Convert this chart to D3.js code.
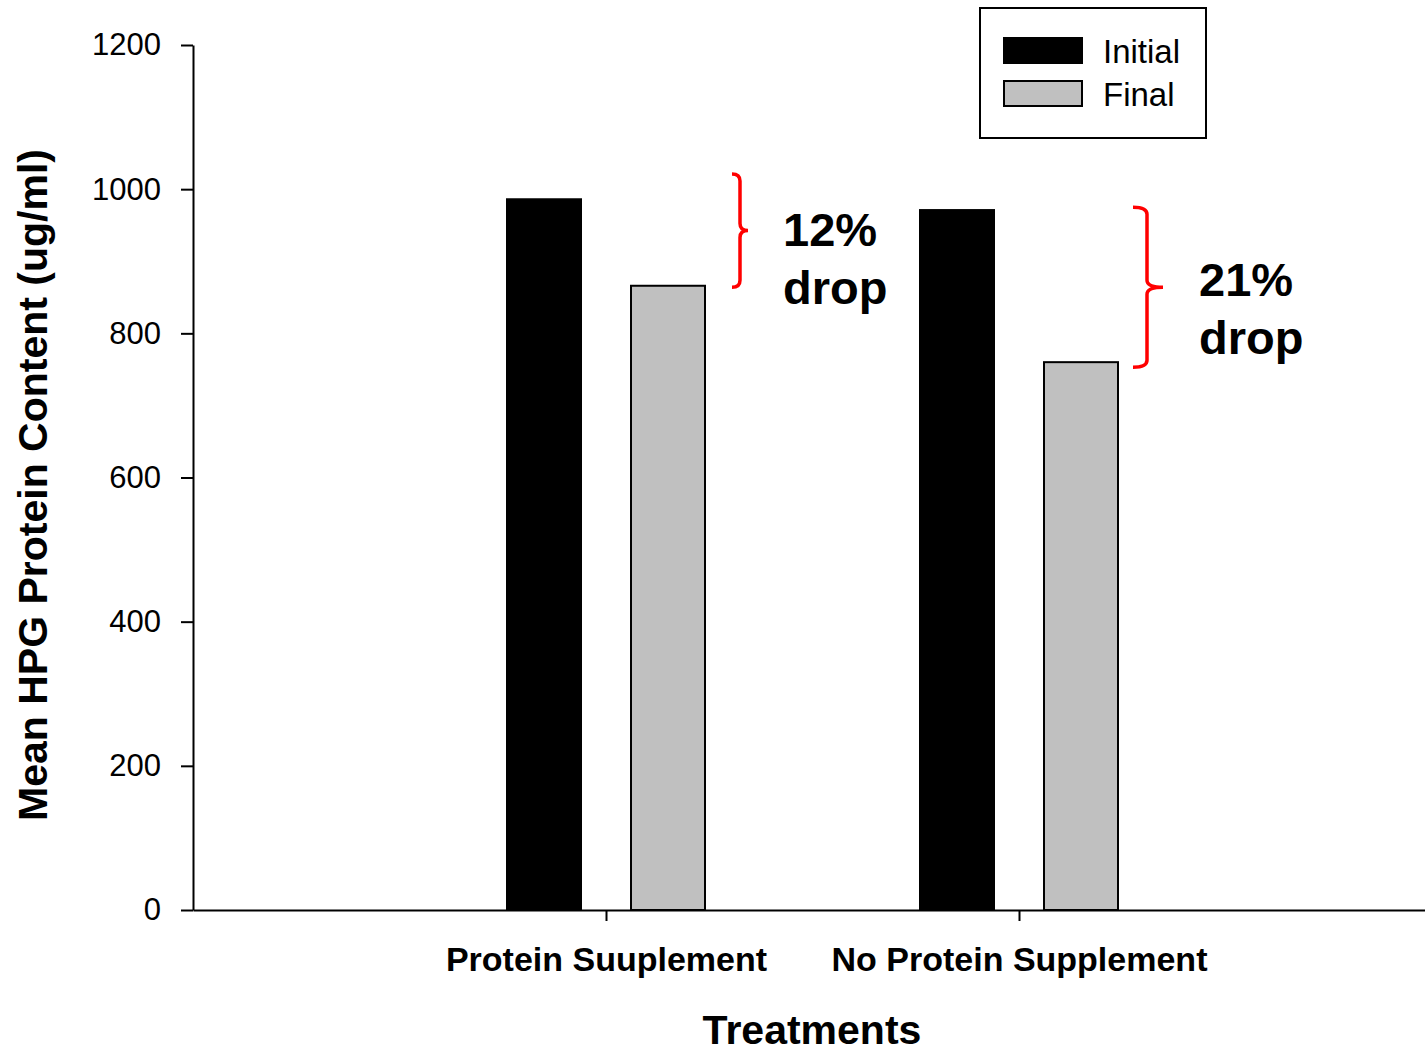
<!DOCTYPE html>
<html>
<head>
<meta charset="utf-8">
<script src="https://cdn.jsdelivr.net/npm/d3@7"></script>
<style>
  html, body { margin: 0; padding: 0; background: #fff; }
  svg { display: block; }
  text { font-family: "Liberation Sans", Arial, sans-serif; }
</style>
</head>
<body>
<script>
// ---- data ----
const categories = ["Protein Suuplement", "No Protein Supplement"];
const series = ["Initial", "Final"];
const initialValues = [986, 971];
const finalValues = [866, 760];
const yTicks = [0, 200, 400, 600, 800, 1000, 1200];
const seriesColors = ["#000000", "#c0c0c0"];
const annotationLabels = [["12%", "drop"], ["21%", "drop"]];
const bracketTop = [1021, 975];
const bracketBottom = [864, 753];

const W = 1425, H = 1052;
const svg = d3.select("body").append("svg").attr("width", W).attr("height", H);

const x = d3.scalePoint().domain(categories).range([193, 1432]).padding(1);
const xs = d3.scalePoint().domain(series).range([-62, 62]);
const y = d3.scaleLinear().domain([0, 1200]).range([910, 45]);
const barW = 74;

// bars
const rows = categories.map((c, i) => ({ cat: c, vals: [initialValues[i], finalValues[i]] }));
const g = svg.append("g");
rows.forEach(r => {
  r.vals.forEach((v, j) => {
    g.append("rect")
      .attr("x", x(r.cat) + xs(series[j]) - barW / 2)
      .attr("y", y(v))
      .attr("width", barW)
      .attr("height", y(0) - y(v))
      .attr("fill", seriesColors[j])
      .attr("stroke", "#000")
      .attr("stroke-width", 2);
  });
});

// y axis
const yAxis = svg.append("g").attr("transform", "translate(193,0)")
  .call(d3.axisLeft(y).tickValues(yTicks).tickFormat(d3.format("d")).tickSize(12).tickPadding(20).tickSizeOuter(0));
yAxis.selectAll("path, line").attr("stroke", "#000").attr("stroke-width", 2);
yAxis.selectAll("text").attr("font-size", 31).attr("fill", "#000")
  .style("font-family", "'Liberation Sans', Arial, sans-serif");

// x axis
const xAxis = svg.append("g").attr("transform", "translate(0,910)")
  .call(d3.axisBottom(x).tickSize(11).tickPadding(26).tickSizeOuter(0));
xAxis.selectAll("path, line").attr("stroke", "#000").attr("stroke-width", 2);
xAxis.selectAll("text").attr("font-size", 34).attr("font-weight", "bold").attr("fill", "#000")
  .style("font-family", "'Liberation Sans', Arial, sans-serif");

// axis titles
svg.append("text")
  .attr("x", 812).attr("y", 1044)
  .attr("text-anchor", "middle")
  .attr("font-size", 41).attr("font-weight", "bold")
  .text("Treatments");

svg.append("text")
  .attr("transform", "translate(47,485) rotate(-90)")
  .attr("text-anchor", "middle")
  .attr("font-size", 41).attr("font-weight", "bold")
  .text("Mean HPG Protein Content (ug/ml)");

// legend
const lg = svg.append("g");
lg.append("rect").attr("x", 980).attr("y", 8).attr("width", 226).attr("height", 130)
  .attr("fill", "#fff").attr("stroke", "#000").attr("stroke-width", 2);
series.forEach((s, i) => {
  lg.append("rect").attr("x", 1004).attr("y", 38 + i * 43).attr("width", 78).attr("height", 25)
    .attr("fill", seriesColors[i]).attr("stroke", "#000").attr("stroke-width", 2);
  lg.append("text").attr("x", 1103).attr("y", 63 + i * 43)
    .attr("font-size", 33).text(s);
});

// brackets + annotations
const bracketX = [134, 128];
const tipLen = [8, 16];
const hookLen = [8, 14];
const textDx = [177, 180];
categories.forEach((c, i) => {
  const bx = x(c) + bracketX[i];
  const t = y(bracketTop[i]), b = y(bracketBottom[i]), m = (t + b) / 2;
  const h = hookLen[i], tp = tipLen[i], r = 7;
  const p = d3.path();
  p.moveTo(bx - h, t);
  p.quadraticCurveTo(bx, t, bx, t + r);
  p.lineTo(bx, m - r);
  p.quadraticCurveTo(bx, m, bx + tp, m);
  p.moveTo(bx + tp, m);
  p.quadraticCurveTo(bx, m, bx, m + r);
  p.lineTo(bx, b - r);
  p.quadraticCurveTo(bx, b, bx - h, b);
  svg.append("path").attr("d", p.toString()).attr("fill", "none")
    .attr("stroke", "#ff0000").attr("stroke-width", 3.5);
  const tx = x(c) + textDx[i];
  annotationLabels[i].forEach((line, k) => {
    svg.append("text").attr("x", tx).attr("y", m + 16 + (k * 58) + (i === 0 ? -1 : -7))
      .attr("font-size", 47).attr("font-weight", "bold").text(line);
  });
});
</script>
</body>
</html>
